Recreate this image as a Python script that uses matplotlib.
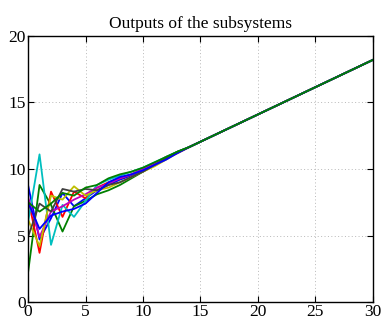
import matplotlib
matplotlib.use("Agg")
import matplotlib.pyplot as plt
import numpy as np

x = list(range(0, 31))

tail = [11.64, 12.05, 12.46, 12.87, 13.28, 13.69, 14.10, 14.51, 14.92,
        15.33, 15.74, 16.15, 16.56, 16.97, 17.38, 17.79, 18.20]

head_blue = [8.8, 4.7, 6.3, 8.2, 7.2, 7.8, 8.4, 8.8, 9.2, 9.5, 9.9, 10.3, 10.8, 11.2]
head_green = [2.2, 8.8, 7.3, 5.3, 7.2, 7.6, 8.1, 8.4, 8.8, 9.3, 9.8, 10.3, 10.9, 11.3]
head_red = [7.8, 3.7, 8.3, 6.4, 8.3, 7.8, 8.6, 9.0, 9.3, 9.6, 10.0, 10.4, 10.9, 11.2]
head_cyan = [6.0, 11.1, 4.3, 7.3, 6.4, 7.6, 8.8, 9.2, 9.5, 9.8, 10.1, 10.5, 10.9, 11.3]
head_magenta = [7.9, 4.9, 6.8, 7.2, 7.7, 8.1, 8.6, 8.9, 9.3, 9.6, 10.0, 10.4, 10.8, 11.2]
head_yellow = [6.2, 4.2, 8.0, 7.7, 8.7, 8.0, 8.4, 8.6, 9.0, 9.4, 9.8, 10.2, 10.7, 11.2]
head_gray = [4.9, 7.4, 6.8, 8.5, 8.3, 8.5, 8.4, 8.8, 9.0, 9.4, 9.8, 10.3, 10.8, 11.3]
head_blue2 = [7.5, 5.5, 6.5, 6.8, 7.0, 7.4, 8.2, 9.0, 9.4, 9.6, 9.9, 10.3, 10.7, 11.2]
head_green2 = [7.5, 6.8, 7.4, 8.2, 8.0, 8.6, 8.8, 9.3, 9.6, 9.8, 10.1, 10.5, 10.9, 11.3]

series = [
    (head_blue, (0, 0, 1)),
    (head_green, (0, 0.5, 0)),
    (head_red, (1, 0, 0)),
    (head_cyan, (0, 0.75, 0.75)),
    (head_magenta, (0.75, 0, 0.75)),
    (head_yellow, (0.75, 0.75, 0)),
    (head_gray, (0.25, 0.25, 0.25)),
    (head_blue2, (0, 0, 1)),
    (head_green2, (0, 0.5, 0)),
]

plt.rcParams['font.family'] = ['Liberation Serif', 'DejaVu Serif']

fig = plt.figure(figsize=(3.84, 3.21), dpi=100)
ax = fig.add_axes([0.073, 0.059, 0.898, 0.829])

for head, col in series:
    ax.plot(x, head + tail, color=col, lw=1.3)

ax.set_xlim(0, 30)
ax.set_ylim(0, 20)
ax.set_xticks([0, 5, 10, 15, 20, 25, 30])
ax.set_yticks([0, 5, 10, 15, 20])
ax.grid(True, linestyle=(0, (1, 2.5)), color='#b8b8b8', lw=0.7)
ax.tick_params(direction='in', top=True, right=True, labelsize=12.5, pad=1.5, length=4)
ax.set_title('Outputs of the subsystems', fontsize=12.5, pad=6)
for s in ax.spines.values():
    s.set_linewidth(1.0)

fig.savefig('out.png', dpi=100)
